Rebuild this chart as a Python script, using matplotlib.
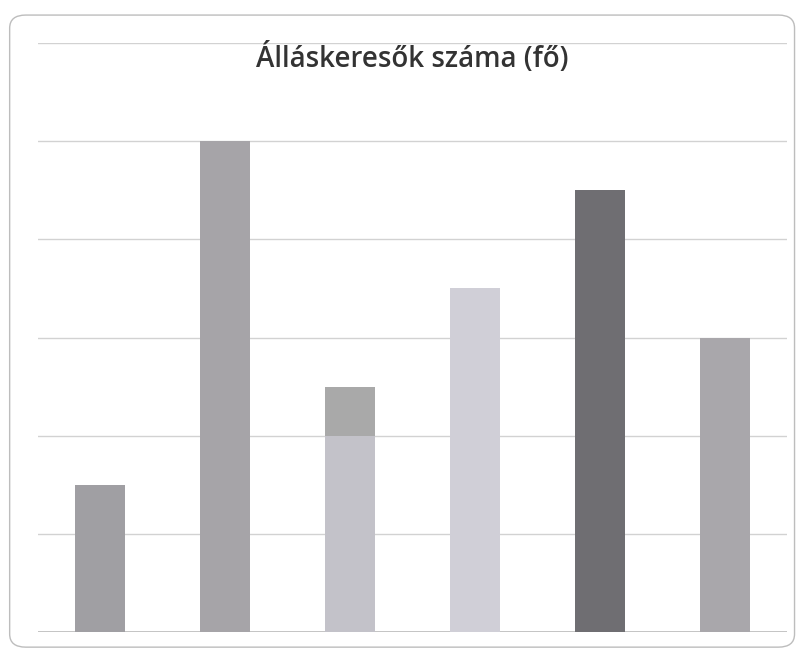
import matplotlib.pyplot as plt
from matplotlib.patches import FancyBboxPatch

# adatok
categories = ['1', '2', '3', '4', '5', '6']
values = [1.5, 5, 2.0, 3.5, 4.5, 3]
extra = [0, 0, 0.5, 0, 0, 0]   # a 3. oszlop sötétebb teteje
colors = ['#a09fa3', '#a6a4a8', '#c3c2c9', '#d0cfd7', '#6f6e72', '#a9a7ab']
extra_color = '#a9a9a9'

fig = plt.figure(figsize=(8.05, 6.55), dpi=100)

# lekerekített keret
frame = FancyBboxPatch((0.012, 0.012), 0.975, 0.965,
                       boxstyle='round,pad=0,rounding_size=0.02',
                       transform=fig.transFigure, facecolor='none',
                       edgecolor='#bdbdbd', linewidth=1.0, zorder=-1)
fig.patches.append(frame)

ax = fig.add_axes([38/805, 1 - 632/655, (787 - 38)/805, (632 - 43)/655])
ax.set_facecolor('none')

x = range(len(categories))
ax.bar(x, values, width=0.4, color=colors, zorder=2)
ax.bar(x, extra, width=0.4, bottom=values, color=extra_color, zorder=2)

ax.set_xlim(-0.5, len(categories) - 0.5)
ax.set_ylim(0, 6)
ax.set_yticks(range(0, 7))
ax.grid(axis='y', color='#d2d2d2', linewidth=1.0, zorder=0)
ax.tick_params(left=False, bottom=False, labelleft=False, labelbottom=False)
for s in ax.spines.values():
    s.set_visible(False)
ax.axhline(0, color='#b8b8b8', linewidth=1.2, zorder=1)

fig.text(0.512, 0.911, 'Álláskeresők száma (fő)', ha='center', va='center',
         fontsize=20, fontweight='semibold', family=['Open Sans', 'DejaVu Sans'],
         color='#333333')

fig.savefig('out.png', dpi=100)
